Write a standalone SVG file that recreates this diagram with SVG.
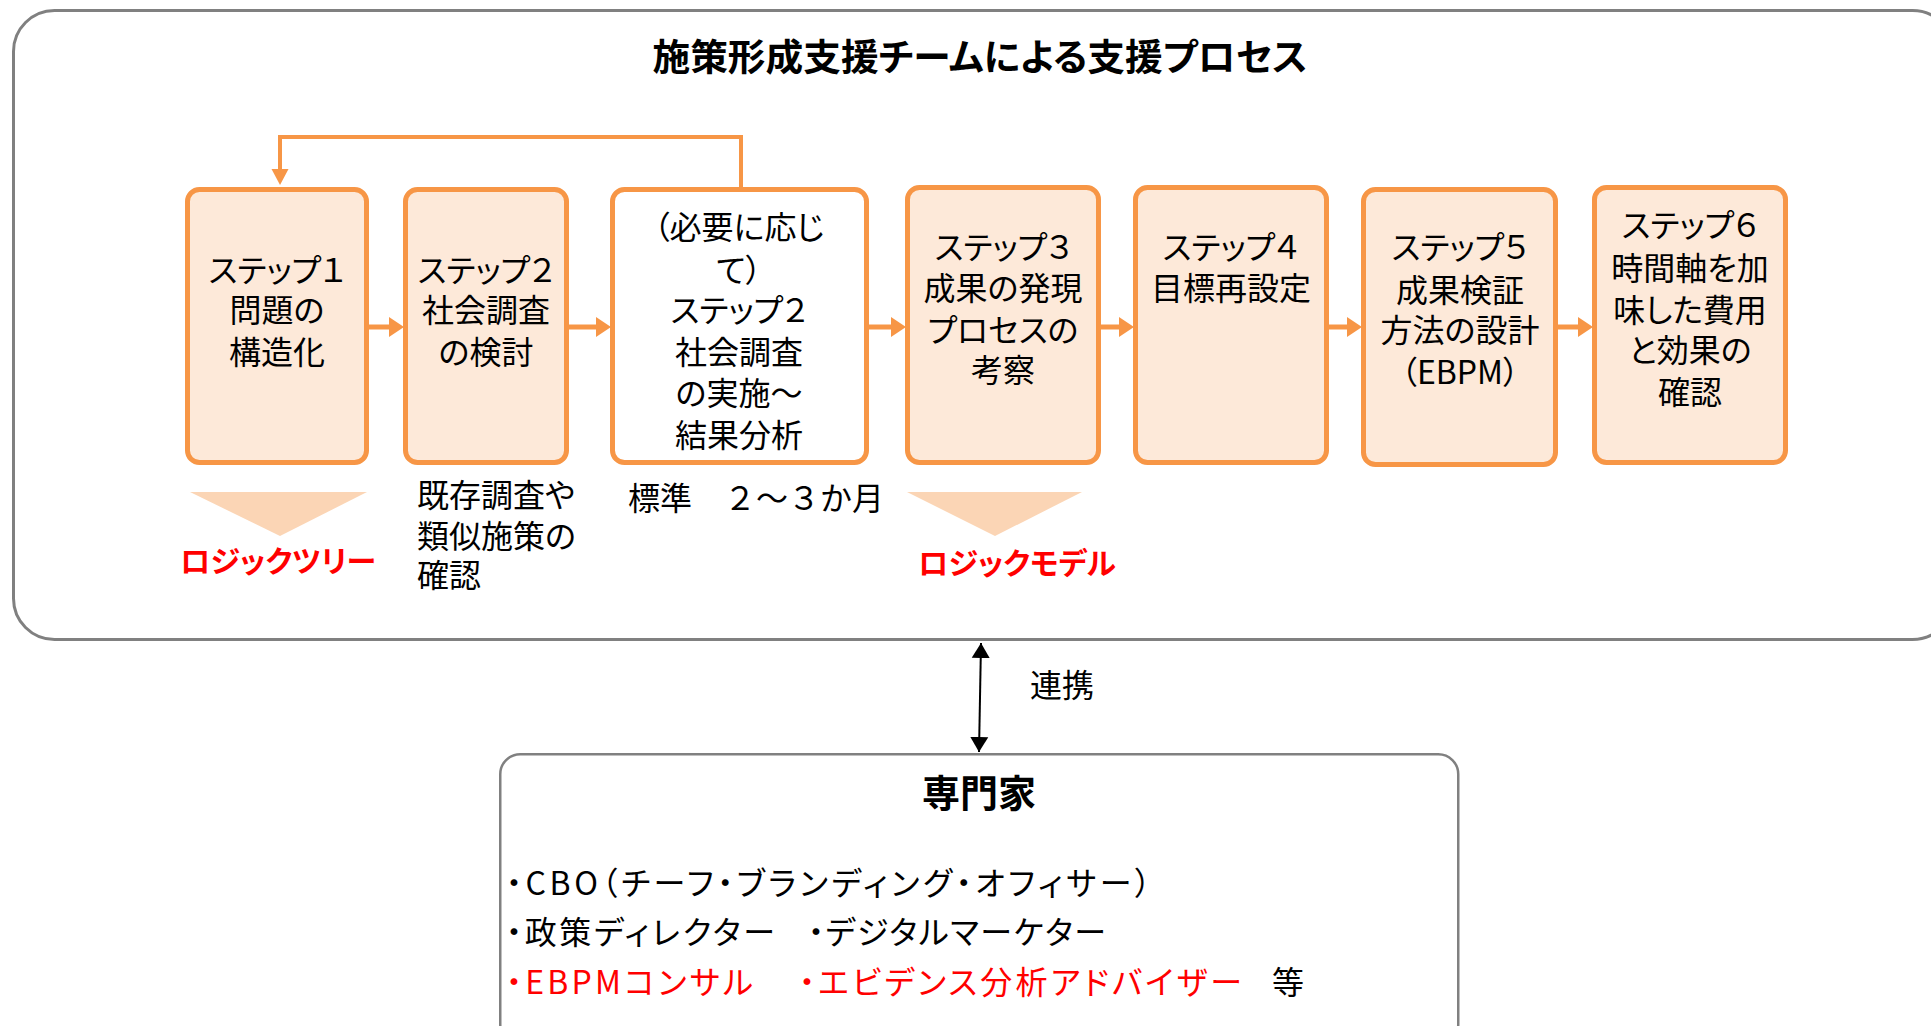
<svg xmlns="http://www.w3.org/2000/svg" width="1931" height="1026" viewBox="0 0 1931 1026">
<style>
text{font-family:"Noto Sans CJK JP","Noto Sans",sans-serif;fill:#000;font-feature-settings:"palt";}
.bt{font-size:32px;text-anchor:middle;}
.lt{font-size:32px;}
.np{font-feature-settings:normal;}
.title{font-size:37px;font-weight:bold;text-anchor:middle;}
.red{fill:#FF0000;}
.lbl{font-size:30px;font-weight:bold;fill:#FF0000;text-anchor:middle;}
.step{fill:#FDE9D9;stroke:#F79646;stroke-width:5;}
.stepw{fill:#FFFFFF;stroke:#F79646;stroke-width:5;}
.frame{fill:none;stroke:#808080;stroke-width:3;}
.oline{fill:none;stroke:#F79646;stroke-width:5;}
.tri{fill:#FBD5B5;}
</style>
<defs>
<marker id="oa" markerUnits="userSpaceOnUse" markerWidth="16" markerHeight="22" viewBox="0 0 16 22" refX="4" refY="11" orient="auto">
<path d="M0,1 L15,11 L0,21 z" fill="#F79646"/>
</marker>
<marker id="ob" markerUnits="userSpaceOnUse" markerWidth="18" markerHeight="18" viewBox="0 0 18 18" refX="6" refY="9" orient="auto">
<path d="M0,0.5 L16,9 L0,17.5 z" fill="#F79646"/>
</marker>
<marker id="ka" markerUnits="userSpaceOnUse" markerWidth="16" markerHeight="20" viewBox="0 0 16 20" refX="15" refY="10" orient="auto-start-reverse">
<path d="M0,1 L15,10 L0,19 z" fill="#000"/>
</marker>
</defs>

<g id="frame-team">
<rect class="frame" x="13.5" y="10.5" width="1940" height="629" rx="41"/>
<text class="title" x="980" y="71" textLength="655" lengthAdjust="spacingAndGlyphs">施策形成支援チームによる支援プロセス</text>
</g>

<g id="connectors">
<line class="oline" x1="369" y1="327" x2="393" y2="327" marker-end="url(#oa)"/>
<line class="oline" x1="569" y1="327" x2="600" y2="327" marker-end="url(#oa)"/>
<line class="oline" x1="869" y1="327" x2="895" y2="327" marker-end="url(#oa)"/>
<line class="oline" x1="1101" y1="327" x2="1123" y2="327" marker-end="url(#oa)"/>
<line class="oline" x1="1329" y1="327" x2="1351" y2="327" marker-end="url(#oa)"/>
<line class="oline" x1="1558" y1="327" x2="1582" y2="327" marker-end="url(#oa)"/>
<path d="M741,187 V137 H280 V175" fill="none" stroke="#F79646" stroke-width="4" marker-end="url(#ob)"/>
<line x1="981" y1="643" x2="979" y2="752" stroke="#000" stroke-width="2" marker-start="url(#ka)" marker-end="url(#ka)"/>
<text class="lt" x="1030" y="697">連携</text>
</g>

<g id="step1">
<rect class="step" x="187.5" y="189.5" width="179" height="273" rx="12"/>
<text class="bt" x="277" y="282">ステップ１</text>
<text class="bt" x="277" y="322">問題の</text>
<text class="bt" x="277" y="364">構造化</text>
</g>
<g id="step2">
<rect class="step" x="405.5" y="189.5" width="161" height="273" rx="12"/>
<text class="bt" x="486" y="282">ステップ２</text>
<text class="bt" x="486" y="322">社会調査</text>
<text class="bt" x="486" y="364">の検討</text>
</g>
<g id="step2b">
<rect class="stepw" x="612.5" y="189.5" width="254" height="273" rx="12"/>
<text class="bt" x="739" y="239">（必要に応じ</text>
<text class="bt" x="739" y="282">て）</text>
<text class="bt" x="739" y="322">ステップ２</text>
<text class="bt" x="739" y="364">社会調査</text>
<text class="bt" x="739" y="405">の実施～</text>
<text class="bt" x="739" y="447">結果分析</text>
</g>
<g id="step3">
<rect class="step" x="907.5" y="187.5" width="191" height="275" rx="12"/>
<text class="bt" x="1003" y="259">ステップ３</text>
<text class="bt" x="1003" y="300">成果の発現</text>
<text class="bt" x="1003" y="342">プロセスの</text>
<text class="bt" x="1003" y="382">考察</text>
</g>
<g id="step4">
<rect class="step" x="1135.5" y="187.5" width="191" height="275" rx="12"/>
<text class="bt" x="1231" y="259">ステップ４</text>
<text class="bt" x="1231" y="300">目標再設定</text>
</g>
<g id="step5">
<rect class="step" x="1363.5" y="189.5" width="192" height="275" rx="12"/>
<text class="bt" x="1460" y="259">ステップ５</text>
<text class="bt" x="1460" y="302">成果検証</text>
<text class="bt" x="1460" y="342">方法の設計</text>
<text class="bt" x="1460" y="384">（EBPM）</text>
</g>
<g id="step6">
<rect class="step" x="1594.5" y="187.5" width="191" height="275" rx="12"/>
<text class="bt" x="1690" y="237">ステップ６</text>
<text class="bt" x="1690" y="280">時間軸を加</text>
<text class="bt" x="1690" y="322">味した費用</text>
<text class="bt" x="1690" y="362">と効果の</text>
<text class="bt" x="1690" y="404">確認</text>
</g>

<g id="logic-tree">
<polygon class="tri" points="190,492 367,492 280,536"/>
<text class="lbl" x="278" y="572">ロジックツリー</text>
</g>
<g id="note-existing">
<text class="lt" x="417" y="507">既存調査や</text>
<text class="lt" x="417" y="548">類似施策の</text>
<text class="lt" x="417" y="587">確認</text>
</g>
<g id="note-standard">
<text class="lt np" x="628" y="510">標準　２～３か月</text>
</g>
<g id="logic-model">
<polygon class="tri" points="907,492 1082,492 995,536"/>
<text class="lbl" x="1017" y="574">ロジックモデル</text>
</g>

<g id="experts">
<rect x="500.25" y="754.25" width="958" height="290" rx="20" fill="#fff" stroke="#808080" stroke-width="2.5"/>
<text x="979" y="807" style="font-size:38px;font-weight:bold;text-anchor:middle;">専門家</text>
<text class="lt" x="506" y="895" textLength="645" lengthAdjust="spacing">・CBO（チーフ・ブランディング・オフィサー）</text>
<text class="lt" x="506" y="944" textLength="269" lengthAdjust="spacing">・政策ディレクター</text>
<text class="lt" x="808" y="944" textLength="298" lengthAdjust="spacing">・デジタルマーケター</text>
<text class="lt red" x="506" y="994" textLength="247" lengthAdjust="spacing">・EBPMコンサル</text>
<text class="lt red" x="799" y="994" textLength="443" lengthAdjust="spacing">・エビデンス分析アドバイザー</text>
<text class="lt" x="1272" y="994">等</text>
</g>
</svg>
